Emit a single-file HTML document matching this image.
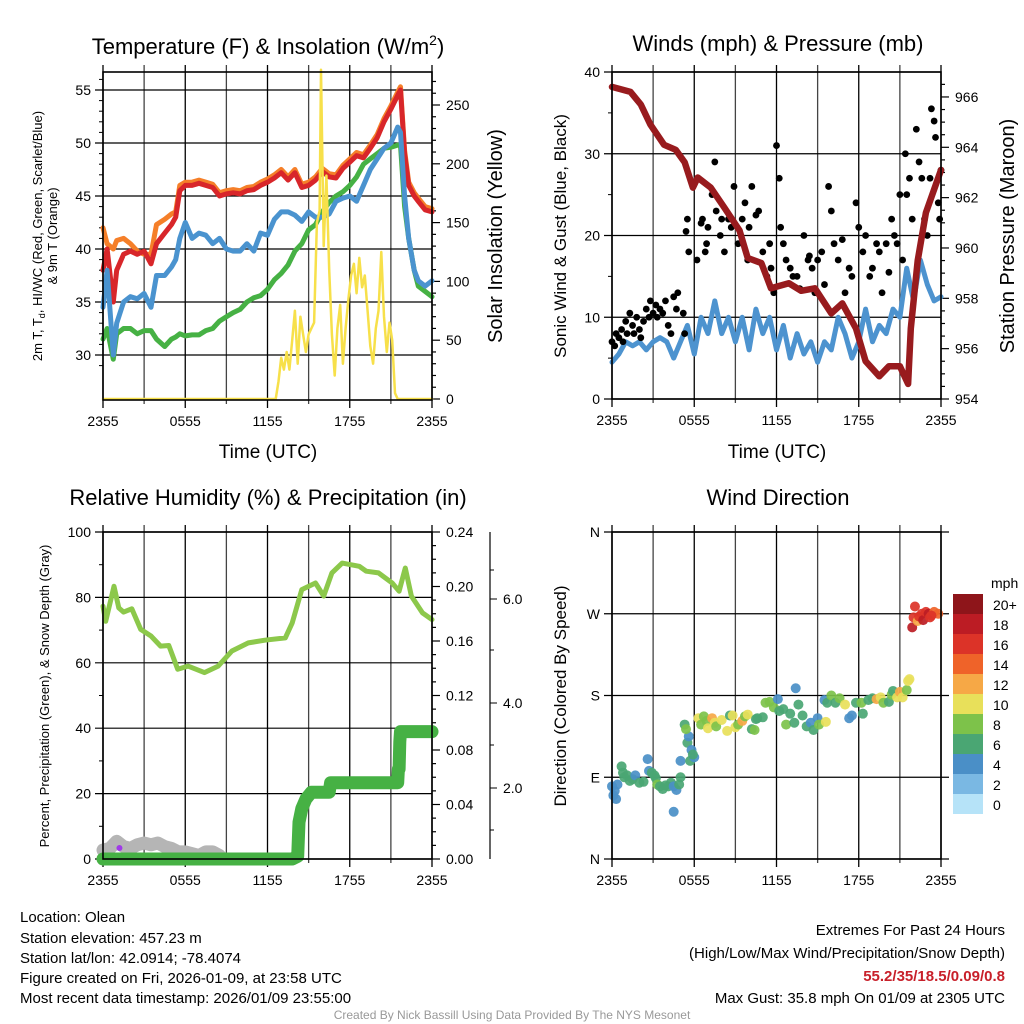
<!DOCTYPE html>
<html><head><meta charset="utf-8"><style>
html,body{margin:0;padding:0;background:#fff;}
svg{display:block;font-family:"Liberation Sans",sans-serif;}
</style></head><body>
<svg id="fig" width="1024" height="1024" viewBox="0 0 1024 1024" xmlns="http://www.w3.org/2000/svg">
<rect x="0" y="0" width="1024" height="1024" fill="#fff"/>
<g id="layer"></g>
<text x="268" y="54" font-size="22" text-anchor="middle">Temperature (F) &amp; Insolation (W/m<tspan font-size="14" dy="-9">2</tspan><tspan dy="9">)</tspan></text>
<text x="778" y="51" font-size="22" text-anchor="middle">Winds (mph) &amp; Pressure (mb)</text>
<text x="268" y="505" font-size="22" text-anchor="middle">Relative Humidity (%) &amp; Precipitation (in)</text>
<text x="778" y="505" font-size="22" text-anchor="middle">Wind Direction</text>
<text x="268" y="458" font-size="19" text-anchor="middle">Time (UTC)</text>
<text x="777" y="458" font-size="19" text-anchor="middle">Time (UTC)</text>
<text transform="translate(42,236) rotate(-90)" font-size="13" text-anchor="middle">2m T, T<tspan font-size="9" dy="3">d</tspan><tspan dy="-3">, HI/WC (Red, Green, Scarlet/Blue)</tspan></text>
<text transform="translate(57,236) rotate(-90)" font-size="13" text-anchor="middle">&amp; 9m T (Orange)</text>
<text transform="translate(502,236) rotate(-90)" font-size="20" text-anchor="middle">Solar Insolation (Yellow)</text>
<text transform="translate(566,236) rotate(-90)" font-size="17" text-anchor="middle">Sonic Wind &amp; Gust (Blue, Black)</text>
<text transform="translate(1014,236) rotate(-90)" font-size="20" text-anchor="middle">Station Pressure (Maroon)</text>
<text transform="translate(49,696) rotate(-90)" font-size="13" text-anchor="middle">Percent, Precipitation (Green), &amp; Snow Depth (Gray)</text>
<text transform="translate(566,696) rotate(-90)" font-size="17" text-anchor="middle">Direction (Colored By Speed)</text>
<text x="991" y="588" font-size="14">mph</text>
<g font-size="15">
<text x="20" y="922">Location: Olean</text>
<text x="20" y="943">Station elevation: 457.23 m</text>
<text x="20" y="963">Station lat/lon: 42.0914; -78.4074</text>
<text x="20" y="983">Figure created on Fri, 2026-01-09, at 23:58 UTC</text>
<text x="20" y="1003">Most recent data timestamp: 2026/01/09 23:55:00</text>
</g>
<g font-size="15" text-anchor="end">
<text x="1005" y="935">Extremes For Past 24 Hours</text>
<text x="1005" y="958">(High/Low/Max Wind/Precipitation/Snow Depth)</text>
<text x="1005" y="981" fill="#c8202a" font-weight="bold">55.2/35/18.5/0.09/0.8</text>
<text x="1005" y="1003">Max Gust: 35.8 mph On 01/09 at 2305 UTC</text>
</g>
<text x="512" y="1019" font-size="12" fill="#999" text-anchor="middle">Created By Nick Bassill Using Data Provided By The NYS Mesonet</text>
</svg>
<script>
// ---- Temperature panel data ----
const tHours=[0,0.3,0.75,1,1.5,2,2.5,3,3.5,3.9,4.5,5,5.3,5.6,6,6.5,7,7.5,8,8.5,9,9.5,10,10.5,11,11.5,12,12.5,13,13.5,14,14.5,15,15.5,16,16.5,17,17.5,18,18.5,19,19.5,20,20.5,21,21.5,21.7,22,22.3,22.7,23,23.5,24];
const tempRed=[38,40,35,38,39.5,39.8,39.5,39.8,38.6,40.5,41.5,42.3,43,45.5,46,46,46.2,46,45.8,45,45.2,45.3,45.2,45.5,45.6,46,46.3,46.7,47.2,46.5,47.2,45.8,46,46.5,47.3,46.8,46.7,47.6,48.2,48.8,48.6,49.5,50.5,52,53.2,54.5,55,49,46,45,44.5,43.7,43.5];
const tempOrange=[42,40.5,40,40.8,41,40.5,39.8,39.5,39.5,42.3,42.8,43.3,43.5,46,46.3,46.3,46.5,46.3,46.1,45.3,45.5,45.6,45.5,45.8,45.9,46.3,46.6,47,47.5,46.8,47.5,46.1,46.3,46.8,47.6,47.1,47,47.9,48.5,49.1,48.9,49.8,50.8,52.3,53.5,54.8,55.3,49.3,46.3,45.3,44.8,44,43.8];
const tempBlue=[34.5,38,30,33,35,35.5,35.3,35.8,34.5,37.5,37.5,38.3,39,41,42.5,41,41.5,41.3,40.5,41,40,39.8,39.8,40.5,39.8,41.5,41.3,42.8,43.5,43.5,43.2,42.6,43.5,43,43,43.3,44.5,44.8,45,44.5,46,47.5,48.5,49.5,50,51.5,51,45,41,38,37,36.5,37];
const tempGreen=[31.5,32.5,29.6,32,32.5,32.5,32,32.3,32.3,31.5,30.8,31.5,31.7,32,31.8,31.9,31.9,32.3,32.5,33.2,33.6,34,34.3,35,35.4,35.6,36.2,37.1,37.7,38.5,39.8,40.5,41.8,42.3,43.5,44.4,45,45.4,46,46.8,48,48.5,49,49.5,49.6,49.8,49.8,44,41,38,36.5,36,35.5];
const solarHours=[0,12.6,12.8,13,13.2,13.4,13.6,13.8,14,14.2,14.4,14.6,14.8,15,15.2,15.4,15.6,15.8,15.9,16.1,16.3,16.5,16.7,16.9,17.1,17.3,17.5,17.7,17.9,18.1,18.3,18.5,18.7,18.9,19.1,19.3,19.5,19.7,19.9,20.1,20.3,20.5,20.7,20.9,21.1,21.3,21.5,24];
const solarVals=[0,0,15,35,25,40,25,50,75,30,70,55,40,55,60,65,150,160,280,130,190,110,55,20,60,80,30,60,85,105,115,90,120,95,105,75,45,30,60,75,125,70,40,65,50,5,0,0];
const tempTicks=[30,35,40,45,50,55];
const solarTicks=[0,50,100,150,200,250];
const timeLabels=["2355","0555","1155","1755","2355"];
// ---- Wind panel data ----
const pHours=[0,1.35,2.1,2.8,3.8,4.65,5.3,5.9,6.25,7.2,8.2,9.3,9.9,10.9,11.6,12.9,13.8,14.8,16,16.8,17.8,18.5,19.5,20.2,21,21.6,21.8,22.3,22.9,24];
const pressure=[966.4,966.2,965.7,964.9,964.1,963.9,963.4,962.4,962.8,962.4,961.6,960.7,959.6,959.4,958.4,958.6,958.3,958.4,957.4,957.8,956.8,955.5,954.9,955.3,955.3,954.6,956.8,959.5,961.4,963.1];
const windHours=[0,0.5,1,1.5,2,2.5,3,3.5,4,4.5,5,5.5,6,6.5,7,7.5,8,8.5,9,9.5,10,10.5,11,11.5,12,12.5,13,13.5,14,14.5,15,15.5,16,16.5,17,17.5,18,18.5,19,19.5,20,20.5,21,21.5,22,22.5,23,23.5,24];
const windSpeed=[4.5,5.5,7,6.5,7,6,7,7.5,7,5,7,9,5.5,10,8,12,8,10,7,10,6,11,8,10,6,9,5,8,5.5,7,4.5,7,6,10,8,5,7,11,7,9,8,11,10,16,12,17,14,12,12.5];
const gustHours=[0,0.2,0.3,0.5,0.7,0.8,1,1.1,1.3,1.5,1.6,1.8,2,2.1,2.3,2.5,2.7,2.8,3,3.2,3.3,3.5,3.7,3.9,4.1,4.3,4.5,4.7,4.8,5.2,5.3,5.4,5.5,5.6,6.2,6.5,6.6,6.8,6.9,7,7.3,7.5,7.6,7.9,8,8.2,8.5,8.7,8.9,9.2,9.5,9.7,9.9,10,10.2,10.5,10.7,11,11.3,11.5,11.6,11.8,12,12.2,12.3,12.5,12.7,13,13.2,13.5,13.7,14,14.3,14.4,14.6,14.8,15,15.3,15.5,15.8,16,16.2,16.5,16.8,17,17.3,17.5,17.8,18,18.3,18.5,18.8,19,19.3,19.5,19.7,20,20.2,20.4,20.6,20.8,21,21.2,21.4,21.5,21.7,21.9,22.2,22.4,22.6,22.8,23,23.2,23.3,23.5,23.6,23.8,23.9,24];
const gustSpeed=[7,6.5,8,7.5,8.5,7,9.5,8,10.5,9,8,10,8.5,7.5,9.5,11,10,12,10.5,11.5,10,11,10.5,12,9,8,12.5,11,13,10.5,8,20.5,22,18,17,21.5,22,18,19,21,25,29,23,20,22,18,22,21,26,19,22,24,17,21,26,22.5,23,18,15,19,16,13,31,27,21,19,17,16,15,15,13.5,20,17,17.5,16,13,17,18,14,26,23,19,17,19.5,13,16,15,24,21,18,20,15,16,19,18,13,19,15.5,22,20,19,25,17,30,25,27,22,33,29,27,22,20,27,35.5,34,32,24,22,28];
const windTicks=[0,10,20,30,40];
const pressTicks=[954,956,958,960,962,964,966];
// ---- RH panel data ----
const rhHours=[0,0.2,0.8,1.15,1.5,2.1,2.75,3.5,4.2,4.8,5.45,6.2,7.4,8.4,9.4,10.6,11.8,13.3,13.8,14.5,15.5,16.1,16.7,17.45,18.7,19.2,20.1,21.1,21.6,22.05,22.5,23.3,24];
const rhVals=[77.3,72.7,83.4,76.8,75.5,76.5,70.2,68.2,65.1,65.3,58,59,57,59,63.6,66.1,66.9,67.6,72.2,82.4,84.4,80.4,87.5,90.5,89.5,88,87.5,84.4,81.9,89,80.4,75.3,73.2];
const precipHours=[0,13.8,14.2,14.3,14.5,14.8,15.2,16.5,16.6,21.5,21.55,21.6,21.65,21.7,24];
const precipVals=[0,0,0.002,0.027,0.037,0.044,0.049,0.049,0.056,0.056,0.066,0.066,0.086,0.0935,0.0935];
const snowHours=[0,0.5,1,1.5,2,2.5,3,3.5,4,4.5,5,5.5,6,6.5,7,7.5,8,8.5];
const snowVals=[0.25,0.3,0.5,0.35,0.3,0.4,0.45,0.4,0.45,0.35,0.3,0.2,0.2,0.15,0.1,0.2,0.2,0.1];
const rhTicks=[0,20,40,60,80,100];
const precipTicks=["0.00","0.04","0.08","0.12","0.16","0.20","0.24"];
const snowTicks=["2.0","4.0","6.0"];
// ---- Direction panel data ----
const dirHours=[0,0.2,0.3,0.4,0.1,0.7,0.8,0.9,1.1,1.3,1.5,1.7,2,2.3,2.6,2.7,2.9,3.1,3.2,3.3,3.5,3.7,3.9,4.1,4.3,4.5,4.7,4.5,4.9,5,5,5.3,5.5,5.6,5.7,6,5.8,5.9,5.4,6.3,6.5,6.7,6.9,7,7.3,7.5,7.6,8,8.4,8.6,8.8,9,9.2,9.5,9.7,9.9,10.2,10.4,10.6,10.5,11,11.2,11.5,11.8,12.1,12.2,12.5,12.7,13,13.3,13.4,13.6,13.9,14.2,14.5,14.7,15,15.1,15.6,15.5,15.7,16,16.3,16.6,17,17.3,17.5,17.8,18.2,18.3,18.7,19,19.3,19.6,19.8,20.2,20.4,20.5,20.8,21,21.2,21.5,21.6,21.7,21.9,22,22.1,22.3,22.4,22.6,22.7,22.9,23.1,23.2,23.5,23.8,23.3];
const dirDeg=[80,75,66,82,70,102,95,90,92,86,88,92,84,85,110,97,95,92,89,82,80,77,81,80,84,80,76,52,82,90,108,148,128,135,108,112,120,115,143,155,148,157,152,144,155,150,146,153,141,158,158,145,148,152,157,159,143,142,155,154,156,172,173,167,176,163,165,148,160,150,188,170,158,146,150,142,155,148,151,175,172,180,172,177,170,155,158,172,172,160,175,177,176,178,172,173,181,185,178,184,178,186,196,198,255,266,278,262,267,270,263,272,270,266,272,270,268];
const dirSpeed=[4,4,4,4,4,6,6,6,6,6,6,4,6,6,4,4,6,6,6,8,6,6,6,6,6,4,4,4,6,6,4,6,6,4,6,4,4,6,8,10,8,8,8,10,12,10,8,10,10,6,10,10,8,12,8,10,6,8,6,6,6,8,8,8,4,6,6,8,6,6,4,6,6,6,4,6,4,8,10,4,6,8,6,8,10,4,4,6,8,6,6,6,12,10,8,6,8,6,10,12,10,8,10,10,18,16,16,12,16,16,18,16,18,16,14,14,16];
const dirLabels=["N","E","S","W","N"];
const cbarLabels=["20+","18","16","14","12","10","8","6","4","2","0"];
const cbarColors=["#8e151a","#bc1c24","#dc3328","#ef6329","#f6a846","#e8e05a","#7dc24a","#4aa673","#4a8fc7","#7ab8e3","#b6e3f8"];

const NS="http://www.w3.org/2000/svg";
const layer=document.getElementById('layer');
function mk(tag,attrs,parent){const e=document.createElementNS(NS,tag);for(const k in attrs)e.setAttribute(k,attrs[k]);(parent||layer).appendChild(e);return e;}
function hx(p,h){return p.x0+h/24*(p.x1-p.x0);}

function frame(p,name){
  const g=mk('g',{});
  
  
  for(let i=0;i<=8;i++){
    const x=hx(p,i*3);
    const l=mk('line',{x1:x,y1:p.yt-7,x2:x,y2:p.yb+(i%2==0?8:4),stroke:i%2==0?'#000':'#444','stroke-width':1.3},g);
    
    
  }
  for(let i=0;i<timeLabels.length;i++){
    const t=mk('text',{x:hx(p,i*6),y:p.yb+26,'font-size':14,'text-anchor':'middle'},g);
    t.textContent=timeLabels[i];
    
    
  }
  return g;
}
function border(p,name){
  const r=mk('rect',{x:p.x0,y:p.yt,width:p.x1-p.x0,height:p.yb-p.yt,fill:'none',stroke:'#000','stroke-width':1.6});
  
  
}
function hgrid(p,y,label,side,name){
  const l=mk('line',{x1:p.x0-8,y1:y,x2:p.x1+(side?8:0),y2:y,stroke:'#000','stroke-width':1.2});
  
  
  if(label!==null){
    const t=mk('text',{x:p.x0-12,y:y+5,'font-size':14,'text-anchor':'end'});
    t.textContent=label;
    
    
  }
}
function rtick(x,y,label,name,len){
  const l=mk('line',{x1:x,y1:y,x2:x+(len||8),y2:y,stroke:'#000','stroke-width':1.2});
  
  
  if(label!==null){
    const t=mk('text',{x:x+14,y:y+5,'font-size':14});
    t.textContent=label;
    
    
  }
}
function series(p,hs,vs,fy,color,w,name){
  const pts=hs.map((h,i)=>hx(p,h).toFixed(1)+','+fy(vs[i]).toFixed(1)).join(' ');
  const e=mk('polyline',{points:pts,fill:'none',stroke:color,'stroke-width':w,'stroke-linejoin':'round','stroke-linecap':'round'});
  
  
}

// Panel 1
const P1={x0:103,x1:432,yt:72,yb:400};
const yT=v=>355-(v-30)*10.6, yS=v=>399-v*1.176;
frame(P1,'temp');
tempTicks.forEach(v=>hgrid(P1,yT(v),String(v),false,'temp'));
for(let v=29;v<=56;v++){if(v%5){const l=mk('line',{x1:P1.x0-4,y1:yT(v),x2:P1.x0,y2:yT(v),stroke:'#000'});}}
solarTicks.forEach(v=>rtick(P1.x1,yS(v),String(v),'solar'));
for(let v=10;v<=270;v+=10){if(v%50)rtick(P1.x1,yS(v),null,'solar-minor',4);}
series(P1,tHours,tempOrange,yT,'#f57f29',5,'temp-9m-orange-line');
series(P1,tHours,tempRed,yT,'#d8262a',5,'temp-2m-red-line');
series(P1,tHours,tempGreen,yT,'#46b144',5,'dewpoint-green-line');
series(P1,tHours,tempBlue,yT,'#4a93cf',5,'windchill-blue-line');
series(P1,solarHours,solarVals,yS,'#f7e04a',2.5,'solar-yellow-line');
border(P1,'temp');

// Panel 2
const P2={x0:612,x1:941,yt:72,yb:399};
const yW=v=>399-v*8.175, yP=v=>399-(v-954)*25.17;
frame(P2,'wind');
windTicks.forEach(v=>hgrid(P2,yW(v),String(v),false,'wind'));
for(let v=5;v<40;v+=10){const l=mk('line',{x1:P2.x0-4,y1:yW(v),x2:P2.x0,y2:yW(v),stroke:'#000'});}
pressTicks.forEach(v=>rtick(P2.x1,yP(v),String(v),'pressure'));
for(let v=954.5;v<967;v+=0.5){if(v%2)rtick(P2.x1,yP(v),null,'pressure-minor',4);}
series(P2,windHours,windSpeed,yW,'#4d93cf',5,'sonic-wind-line');
gustHours.forEach((h,i)=>{const c=mk('circle',{cx:hx(P2,h),cy:yW(gustSpeed[i]),r:3.4,fill:'#000'});});
series(P2,pHours,pressure,yP,'#981b1e',6.5,'pressure-line');
border(P2,'wind');

// Panel 3
const P3={x0:103,x1:432,yt:532,yb:859};
const yR=v=>859-v*3.27, yPr=v=>859-v/0.24*327, ySn=v=>859-v*35.5;
frame(P3,'rh');
rhTicks.forEach(v=>hgrid(P3,yR(v),String(v),false,'rh'));
for(let v=10;v<100;v+=20){const l=mk('line',{x1:P3.x0-4,y1:yR(v),x2:P3.x0,y2:yR(v),stroke:'#000'});}
precipTicks.forEach(v=>rtick(P3.x1,yPr(parseFloat(v)),v,'precip'));
for(let v=0.01;v<0.24;v+=0.01){if(Math.round(v*100)%4)rtick(P3.x1,yPr(v),null,'precip-minor',4);}
const sa=mk('line',{x1:490,y1:532,x2:490,y2:859,stroke:'#000','stroke-width':1.2});


const snowPos=[788,703,599];
snowTicks.forEach((v,i)=>{const l=mk('line',{x1:490,y1:snowPos[i],x2:497,y2:snowPos[i],stroke:'#000'});const t=mk('text',{x:503,y:snowPos[i]+5,'font-size':14});t.textContent=v;});
[830,745,650,570].forEach(y=>{const l=mk('line',{x1:490,y1:y,x2:494,y2:y,stroke:'#000'});});
series(P3,snowHours,snowVals,ySn,'#b5b5b5',13,'snow-depth-gray');
const pd=mk('circle',{cx:hx(P3,1.2),cy:848,r:3,fill:'#a03ae8'});


series(P3,rhHours,rhVals,yR,'#8cc84b',5,'rh-line');
series(P3,precipHours,precipVals,yPr,'#46b144',13,'precip-line');
border(P3,'rh');

// Panel 4
const P4={x0:612,x1:941,yt:532,yb:859};
const yD=v=>859-v/360*327;
frame(P4,'direction');
dirLabels.forEach((lab,i)=>hgrid(P4,yD(i*90),lab,true,'direction'));
dirHours.forEach((h,i)=>{const b=Math.min(10,Math.floor(dirSpeed[i]/2));const c=mk('circle',{cx:hx(P4,h),cy:yD(dirDeg[i]),r:5,fill:cbarColors[10-b],'fill-opacity':0.92});});
border(P4,'direction');
cbarColors.forEach((c,i)=>{const r=mk('rect',{x:953,y:594+i*20,width:30,height:20,fill:c});const t=mk('text',{x:993,y:610+i*20,'font-size':14});t.textContent=cbarLabels[i];});
</script>
</body></html>
